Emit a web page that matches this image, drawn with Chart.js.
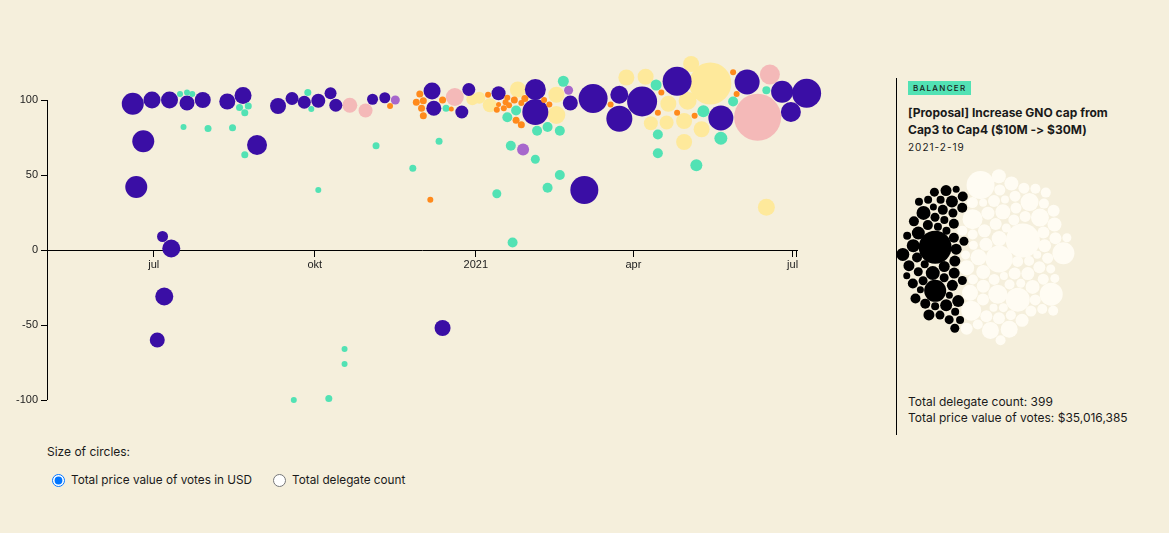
<!DOCTYPE html>
<html>
<head>
<meta charset="utf-8">
<script src="https://cdn.jsdelivr.net/npm/chart.js@4.4.0/dist/chart.umd.min.js"></script>
<style>
  body { margin: 0; background: #f5efdc; width: 1169px; height: 533px; overflow: hidden; position: relative; font-family: Inter, "Noto Sans", sans-serif; color: #1a1a1a; font-feature-settings: "calt" 0, "liga" 0; }
  #main { position: absolute; left: 0; top: 0; }
  #pack { position: absolute; left: 880px; top: 150px; }
  .divider { position: absolute; left: 896px; top: 78px; width: 1px; height: 357px; background: #000; }
  .tag { position: absolute; left: 908px; top: 81px; height: 14px; line-height: 14px; padding: 0 5px; background: #52e2b4; font-size: 8px; letter-spacing: 1.3px; font-weight: 500; }
  .title { position: absolute; left: 908px; top: 104px; font-size: 12px; font-weight: 700; line-height: 17px; }
  .date { position: absolute; left: 908px; top: 141px; font-size: 10px; letter-spacing: 1px; }
  .totals { position: absolute; left: 908px; top: 394px; font-size: 12px; line-height: 16px; }
  .size-label { position: absolute; left: 47px; top: 444px; font-size: 12px; }
  .radios { position: absolute; left: 47px; top: 473px; font-size: 11.75px; display: flex; align-items: center; }
  .radios label { display: flex; align-items: center; margin-right: 16px; }
  .radios input { margin: 0 6px 0 5px; width: 13px; height: 13px; }
</style>
</head>
<body>
<canvas id="main" width="850" height="440"></canvas>
<div class="divider"></div>
<div class="tag">BALANCER</div>
<div class="title">[Proposal] Increase GNO cap from<br>Cap3 to Cap4 ($10M -&gt; $30M)</div>
<div class="date">2021-2-19</div>
<canvas id="pack" width="210" height="220"></canvas>
<div class="totals">Total delegate count: 399<br>Total price value of votes: $35,016,385</div>
<div class="size-label">Size of circles:</div>
<div class="radios">
  <label><input type="radio" name="size" checked>Total price value of votes in USD</label>
  <label><input type="radio" name="size">Total delegate count</label>
</div>
<script>
// proposals: date, share of votes (%) and circle radius (px)
const purpleDates = ['2020-06-19','2020-06-30','2020-07-10','2020-07-20','2020-07-29','2020-08-12','2020-08-21','2020-06-25','2020-08-29','2020-06-21','2020-07-06','2020-07-11','2020-07-07','2020-07-03','2020-09-10','2020-09-18','2020-09-25','2020-10-03','2020-10-10','2020-10-13','2020-11-03','2020-11-10','2020-12-07','2020-12-08','2020-12-28','2020-12-24','2021-01-14','2021-02-04','2021-02-04','2021-02-24','2021-03-09','2021-03-24','2021-03-24','2021-04-06','2021-04-26','2021-05-21','2021-06-05','2021-06-25','2021-07-09','2021-06-30','2021-03-04','2020-12-13'];
const purpleVotes = [97.5,100,100,98,100,99,103,72.5,70,42,9,1,-31,-60,96,101,98.5,99.5,104.5,96.5,100.5,101.5,106,94.5,107,92,104.5,107,92,98,101,103.5,87.5,99,112.5,88,112,105.5,104.5,92,40,-52];
const purpleSizes = [11,8.5,8.5,7.5,8,8,8.5,11,10,11,5.5,9,9,7.5,8,6.5,6.5,7,6,6.5,5.5,5.5,8.5,7.5,6.5,6.5,7,10.5,13,7.5,14.5,9,13,15,14.5,12.5,12.5,11,14.5,10,14,8];

const tealDates = ['2020-07-16','2020-07-20','2020-07-23','2020-08-19','2020-08-24','2020-08-22','2020-07-18','2020-08-01','2020-08-15','2020-08-22','2020-09-27','2020-09-29','2020-11-05','2020-10-03','2020-11-26','2020-12-15','2020-12-11','2020-10-18','2020-10-18','2020-09-19','2020-10-09','2021-01-24','2021-01-19','2021-02-20','2021-02-05','2021-02-11','2021-02-18','2021-01-21','2021-02-04','2021-02-18','2021-02-11','2021-01-13','2021-01-22','2021-04-14','2021-04-15','2021-04-15','2021-05-11','2021-05-07','2021-05-21','2021-05-28','2021-06-16'];
const tealVotes = [104,105,104,95,96,91.5,82,81,81.5,63.5,105,94,69.5,40,54.5,94.5,72.5,-66,-76,-100,-99,93,88.5,112.5,79.5,82,79.5,69.5,60.5,50,41.5,37.5,5,110,77,64.5,92.5,56.5,74.5,99,106.5];
const tealSizes = [3,3,3,3.5,3.5,3.5,3,3.5,3.5,3.5,3.5,3,3.5,3,3.5,3.5,3.5,3,3,3,3.5,5,5,5.5,5,5,5,5,4.5,5,5,4.5,5,5.5,5,5,6,6,6.5,5,4];

const orangeDates = ['2020-11-13','2020-11-30','2020-11-28','2020-12-02','2020-12-01','2020-12-02','2020-12-13','2020-12-18','2021-01-08','2021-01-14','2021-01-13','2021-01-17','2021-01-19','2021-01-20','2021-01-18','2021-01-23','2021-01-27','2021-01-29','2021-01-24','2021-01-27','2021-02-09','2021-02-12','2020-12-06','2021-03-19','2021-04-17','2021-04-15','2021-04-26','2021-05-06','2021-05-28','2021-05-30'];
const orangeVotes = [96,104,98.5,99.5,94.5,89.5,100,94,103.5,97,93.5,94.5,101.5,96.5,98.5,100,98,101,86.5,83.5,100,97,33.5,97,105,91.5,91.5,89.5,118.5,104];
const orangeSizes = [3,3.5,3.5,3.5,3.5,3.5,3.5,2.5,3,2.5,3,3,3,3,3,3.5,3,3.5,3.5,3.5,3,3,3,3,3,3,3,3,3,3];

const yellowDates = ['2020-12-30','2021-01-03','2021-01-09','2021-01-25','2021-02-16','2021-02-16','2021-03-28','2021-04-08','2021-05-04','2021-05-15','2021-04-11','2021-04-20','2021-04-30','2021-04-30','2021-05-10','2021-06-16','2021-04-21','2021-05-02'];
const yellowVotes = [100.5,101.5,96.5,107,103.5,90,115,115.5,124,111,84.5,85,86,72,80.5,28.5,97.5,99.5];
const yellowSizes = [6,6,7,8,8,9,8,8,8,21,7,7,8,8,8,8.5,8,9];

const pinkDates = ['2020-10-21','2020-10-30','2020-12-20','2021-06-18','2021-06-11'];
const pinkVotes = [96.5,93,102,117,88.5];
const pinkSizes = [7.5,7,9,10,23.5];

const violetDates = ['2020-11-16','2021-02-23','2021-01-28'];
const violetVotes = [100,106.5,67];
const violetSizes = [4.5,4.5,6];

const tickDates = ['2020-07-01','2020-10-01','2021-01-01','2021-04-01','2021-07-01'];
const tickLabels = ['jul','okt','2021','apr','jul'];
const yTicks = [-100,-50,0,50,100];

// delegates of the selected proposal, circle radius (px)
const votesBlack = [16.5,5,4.5,6,5.5,4,11,5,4.5,7,4,5.5,6.5,5,4.5,4,6,5,4.5,3.5,7,5.5,4,5,4.5,6.5,4,5,3.5,5.5,4.5,6,4,5,4.5,3.5,5.5,4,6.5,5,4.5,4,5.5,5,3.5,4.5,4,5,5.5,4.5,4,3.5,5,4.5,4,5.5];
const votesWhite = [17,6,5.5,12,5,6.5,4.5,14,6,5.5,7,5,13.5,4.5,6,5.5,11.5,7.5,5,4,6.5,11,6,5.5,5,10,7,4.5,6.5,5.5,10,6,5,7.5,4,9.5,5.5,6.5,5,9,6,4.5,7,5.5,9,5,6.5,6,8.5,4,5.5,7,5,8.5,6,4.5,6.5,7.5,5.5,8,5,6,7,4.5,8,5.5,6.5,5,6,4,5.5,5,4.5,6,5,5.5,4.5,5,4,5.5];

const DAY = 86400000;
const origin = Date.UTC(2020, 6, 1);
function toDay(s) { return (new Date(s).getTime() - origin) / DAY; }

function series(label, color, dates, votes, sizes) {
  return {
    label: label,
    data: dates.map((d, i) => ({ x: toDay(d), y: votes[i], r: sizes[i] })),
    backgroundColor: color,
    borderWidth: 0,
    clip: false
  };
}

const yAxisLine = {
  id: 'yAxisLine',
  beforeDatasetsDraw(chart) {
    const y = chart.scales.y;
    const ctx = chart.ctx;
    const x = Math.round(chart.chartArea.left) + 0.5;
    ctx.save();
    ctx.strokeStyle = '#000';
    ctx.lineWidth = 1;
    ctx.beginPath();
    ctx.moveTo(x, y.getPixelForValue(100));
    ctx.lineTo(x, y.getPixelForValue(-100));
    ctx.stroke();
    ctx.restore();
  }
};

Chart.defaults.font.family = '"Liberation Sans", Arial, sans-serif';
Chart.defaults.font.size = 11;
Chart.defaults.color = '#222';

const xMin = -61, xMax = 367.5;

new Chart(document.getElementById('main'), {
  type: 'bubble',
  data: {
    datasets: [
      series('violet', '#a767cc', violetDates, violetVotes, violetSizes),
      series('orange', '#ff8a1c', orangeDates, orangeVotes, orangeSizes),
      series('Balancer', '#52e2b4', tealDates, tealVotes, tealSizes),
      series('purple', '#3a0ea5', purpleDates, purpleVotes, purpleSizes),
      series('pink', '#f4b9b8', pinkDates, pinkVotes, pinkSizes),
      series('yellow', '#fee99b', yellowDates, yellowVotes, yellowSizes)
    ]
  },
  options: {
    responsive: false,
    animation: false,
    events: [],
    layout: { padding: { left: 0, right: 53, top: 55, bottom: 40 } },
    plugins: { legend: { display: false }, tooltip: { enabled: false } },
    scales: {
      x: {
        type: 'linear',
        min: xMin,
        max: xMax,
        position: { y: 0 },
        afterBuildTicks: function(scale) {
          scale.ticks = [{ value: xMin }].concat(tickDates.map(d => ({ value: toDay(d) })), [{ value: 367 }]);
        },
        ticks: {
          autoSkip: false,
          maxRotation: 0,
          padding: 2,
          callback: function(value) {
            const i = tickDates.findIndex(d => Math.abs(toDay(d) - value) < 0.01);
            return i >= 0 ? tickLabels[i] : '';
          }
        },
        grid: { drawOnChartArea: false, drawTicks: true, tickLength: 6, color: '#000' },
        border: { display: true, color: '#000', width: 1 }
      },
      y: {
        min: -100,
        max: 130,
        afterBuildTicks: function(scale) {
          scale.ticks = yTicks.map(v => ({ value: v }));
        },
        afterFit: function(scale) { scale.width = 47; },
        ticks: { padding: 3 },
        grid: { drawOnChartArea: false, drawTicks: true, tickLength: 6, color: '#000' },
        border: { display: false }
      }
    }
  },
  plugins: [yAxisLine]
});

// simple collision layout for the delegate circles
function packLayout(groups, cx, cy, gap) {
  const nodes = [];
  groups.forEach(g => {
    g.radii.forEach((r, i) => {
      const a = i * 2.39996;
      const d = 6 * Math.sqrt(i + 0.5);
      nodes.push({ r: r, tx: cx + g.dx, color: g.color, x: cx + g.start + d * Math.cos(a), y: cy + d * Math.sin(a) });
    });
  });
  function collide() {
    for (let i = 0; i < nodes.length; i++) {
      for (let j = i + 1; j < nodes.length; j++) {
        const a = nodes[i], b = nodes[j];
        let dx = b.x - a.x, dy = b.y - a.y;
        let d = Math.sqrt(dx * dx + dy * dy);
        const need = a.r + b.r + gap;
        if (d < need) {
          if (d < 1e-6) { dx = 0.1; dy = 0.1; d = 0.1414; }
          const k = (need - d) / d;
          const wa = b.r * b.r / (a.r * a.r + b.r * b.r);
          const wb = 1 - wa;
          a.x -= dx * k * wa; a.y -= dy * k * wa;
          b.x += dx * k * wb; b.y += dy * k * wb;
        }
      }
    }
  }
  const steps = 400;
  for (let it = 0; it < steps; it++) {
    const g = 0.04 * (1 - it / steps) + 0.002;
    nodes.forEach(n => {
      n.x += (n.tx - n.x) * g;
      n.y += (cy - n.y) * g * 0.55;
    });
    collide(); collide(); collide();
  }
  for (let it = 0; it < 60; it++) collide();
  // centre the cluster on (cx, cy)
  let x0 = Infinity, x1 = -Infinity, y0 = Infinity, y1 = -Infinity;
  nodes.forEach(n => {
    x0 = Math.min(x0, n.x - n.r); x1 = Math.max(x1, n.x + n.r);
    y0 = Math.min(y0, n.y - n.r); y1 = Math.max(y1, n.y + n.r);
  });
  const sx = cx - (x0 + x1) / 2, sy = cy - (y0 + y1) / 2;
  nodes.forEach(n => { n.x += sx; n.y += sy; });
  return nodes;
}

const packNodes = packLayout([
  { radii: votesBlack, dx: -32, start: -65, color: '#000000' },
  { radii: votesWhite, dx: 16, start: 50, color: '#fffcf3' }
], 105, 107, 3.2);

new Chart(document.getElementById('pack'), {
  type: 'bubble',
  data: {
    datasets: ['#000000', '#fffcf3'].map(c => ({
      data: packNodes.filter(n => n.color === c).map(n => ({ x: n.x, y: n.y, r: n.r })),
      backgroundColor: c,
      borderWidth: 0,
      clip: false
    }))
  },
  options: {
    responsive: false,
    animation: false,
    events: [],
    layout: { padding: 0 },
    plugins: { legend: { display: false }, tooltip: { enabled: false } },
    scales: {
      x: { display: false, min: 0, max: 210 },
      y: { display: false, min: 0, max: 220, reverse: true }
    }
  }
});
</script>
</body>
</html>
